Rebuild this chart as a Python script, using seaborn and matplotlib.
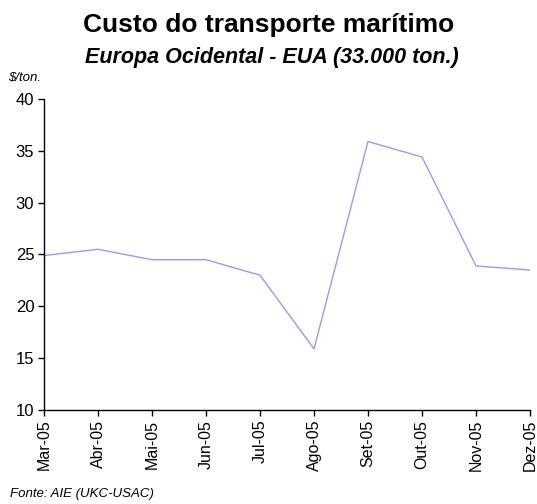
import matplotlib
matplotlib.use("Agg")
import matplotlib.pyplot as plt
import seaborn as sns
import pandas as pd

# data
months = ["Mar-05", "Abr-05", "Mai-05", "Jun-05", "Jul-05",
          "Ago-05", "Set-05", "Out-05", "Nov-05", "Dez-05"]
cost = [24.9, 25.5, 24.5, 24.5, 23.0, 15.9, 35.9, 34.4, 23.9, 23.5]

sns.set_style("white")
plt.rcParams["font.family"] = ["Liberation Sans", "DejaVu Sans"]
plt.rcParams["text.color"] = "black"
plt.rcParams["xtick.color"] = "black"
plt.rcParams["ytick.color"] = "black"

df = pd.DataFrame({"mes": months, "custo": cost})
df["pos"] = range(len(df))

fig = plt.figure(figsize=(5.37, 5.04), dpi=100)
ax = fig.add_axes([44 / 537, 94 / 504, 486 / 537, 311 / 504])

sns.lineplot(data=df, x="pos", y="custo", ax=ax, color="#9999FF", linewidth=1.0)

ax.set_xlim(0, len(months) - 1)
ax.set_ylim(10, 40)
ax.set_yticks([10, 15, 20, 25, 30, 35, 40])
ax.set_xticks(df["pos"])
ax.set_xticklabels(months, rotation=90, fontsize=11.5)
ax.tick_params(axis="y", labelsize=12)
ax.tick_params(axis="both", direction="out", length=4, width=1, color="black",
               labelcolor="black", left=True, bottom=True, pad=3)
ax.set_xlabel("")
ax.set_ylabel("")
for side in ["top", "right"]:
    ax.spines[side].set_visible(False)
for side in ["left", "bottom"]:
    ax.spines[side].set_color("black")
    ax.spines[side].set_linewidth(1)

fig.text(0.5, 1 - 25 / 504, "Custo do transporte marítimo", ha="center", va="center",
         fontsize=19, fontweight="bold", color="black")
fig.text(272 / 537, 1 - 57 / 504, "Europa Ocidental - EUA (33.000 ton.)", ha="center",
         va="center", fontsize=15.5, fontweight="bold", style="italic", color="black")
fig.text(8 / 537, 1 - 78 / 504, "$/ton.", ha="left", va="center", fontsize=9.5,
         style="italic", color="black")
fig.text(10 / 537, 1 - 494 / 504, "Fonte: AIE (UKC-USAC)", ha="left", va="center",
         fontsize=9.5, style="italic", color="black")

fig.savefig("out.png", dpi=100)
